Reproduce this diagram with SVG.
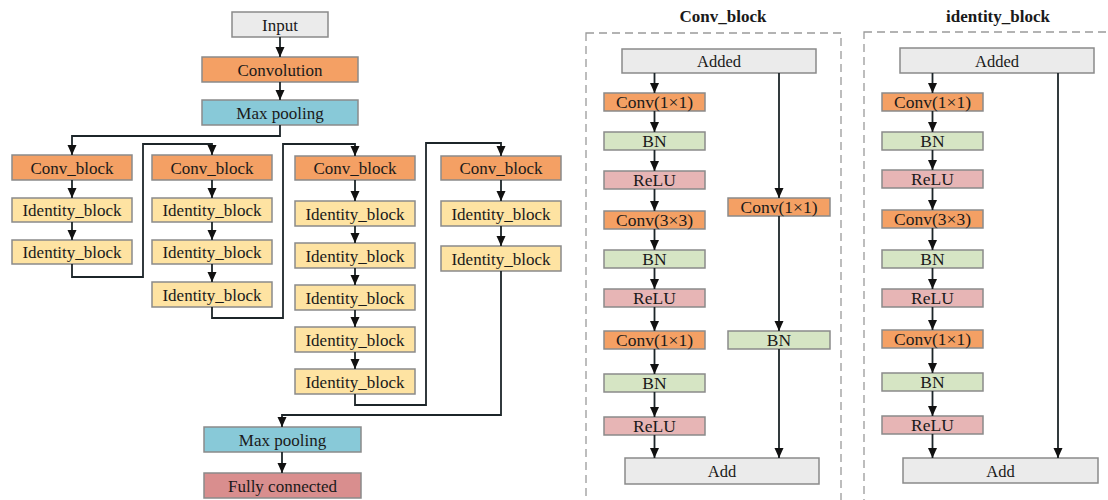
<svg xmlns="http://www.w3.org/2000/svg" width="1108" height="500" viewBox="0 0 1108 500">
<style>
  rect.n { stroke: #8a8a8a; stroke-width: 1.5; }
  .gray { fill: #ebebeb; }
  .orange { fill: #f4a064; }
  .blue { fill: #88c9d8; }
  .yellow { fill: #fee3a2; }
  .green { fill: #d6e5c4; }
  .pink { fill: #e7b5b5; }
  .red { fill: #d98e8e; }
  text { font-family: "Liberation Serif", "Times New Roman", serif; fill: #1a1a1a; text-anchor: middle; }
  .t { font-size: 17px; }
  .ti { font-size: 17px; }
  .ts { font-size: 17.5px; }
  .tg { font-size: 16.5px; }
  .title { font-size: 17px; font-weight: bold; }
  .c path, .c line { fill: none; stroke: #1c2529; stroke-width: 1.8; }
  .dash { fill: none; stroke: #9a9a9a; stroke-width: 1.3; stroke-dasharray: 8 5; }
</style>
<defs>
  <marker id="ah" markerUnits="userSpaceOnUse" markerWidth="10" markerHeight="10" viewBox="0 0 10 10" refX="10" refY="5" orient="auto">
    <path d="M0,0.5 L10,5 L0,9.5 Z" fill="#111"/>
  </marker>
</defs>
<rect width="1108" height="500" fill="#ffffff"/>

<g font-family="Liberation Serif, serif">
<!-- Left network -->
<g id="input"><rect class="n gray" x="232" y="12" width="96" height="25"/><text class="t" x="280" y="30.5">Input</text></g>
<g id="convolution"><rect class="n orange" x="202" y="57" width="156" height="25"/><text class="t" x="280" y="75.5">Convolution</text></g>
<g id="maxpool1"><rect class="n blue" x="202" y="100" width="156" height="25"/><text class="t" x="280" y="118.5">Max pooling</text></g>

<g id="c1_conv"><rect class="n orange" x="12" y="155" width="120" height="25"/><text class="t" x="72" y="173.5">Conv_block</text></g>
<g id="c1_id1"><rect class="n yellow" x="12" y="198" width="120" height="24"/><text class="ti" x="72" y="216">Identity_block</text></g>
<g id="c1_id2"><rect class="n yellow" x="12" y="240" width="120" height="24"/><text class="ti" x="72" y="258">Identity_block</text></g>

<g id="c2_conv"><rect class="n orange" x="152" y="155" width="120" height="25"/><text class="t" x="212" y="173.5">Conv_block</text></g>
<g id="c2_id1"><rect class="n yellow" x="152" y="198" width="120" height="24"/><text class="ti" x="212" y="216">Identity_block</text></g>
<g id="c2_id2"><rect class="n yellow" x="152" y="240" width="120" height="24"/><text class="ti" x="212" y="258">Identity_block</text></g>
<g id="c2_id3"><rect class="n yellow" x="152" y="282" width="120" height="25"/><text class="ti" x="212" y="300.5">Identity_block</text></g>

<g id="c3_conv"><rect class="n orange" x="295" y="156" width="120" height="24"/><text class="t" x="355" y="174">Conv_block</text></g>
<g id="c3_id1"><rect class="n yellow" x="295" y="201" width="120" height="25"/><text class="ti" x="355" y="219.5">Identity_block</text></g>
<g id="c3_id2"><rect class="n yellow" x="295" y="243" width="120" height="25"/><text class="ti" x="355" y="261.5">Identity_block</text></g>
<g id="c3_id3"><rect class="n yellow" x="295" y="285" width="120" height="25"/><text class="ti" x="355" y="303.5">Identity_block</text></g>
<g id="c3_id4"><rect class="n yellow" x="295" y="327" width="120" height="25"/><text class="ti" x="355" y="345.5">Identity_block</text></g>
<g id="c3_id5"><rect class="n yellow" x="295" y="369" width="120" height="25"/><text class="ti" x="355" y="387.5">Identity_block</text></g>

<g id="c4_conv"><rect class="n orange" x="441" y="156" width="120" height="24"/><text class="t" x="501" y="174">Conv_block</text></g>
<g id="c4_id1"><rect class="n yellow" x="441" y="201" width="120" height="25"/><text class="ti" x="501" y="219.5">Identity_block</text></g>
<g id="c4_id2"><rect class="n yellow" x="441" y="246" width="120" height="25"/><text class="ti" x="501" y="264.5">Identity_block</text></g>

<g id="maxpool2"><rect class="n blue" x="204" y="427" width="157" height="25"/><text class="t" x="282.5" y="445.5">Max pooling</text></g>
<g id="fc"><rect class="n red" x="204" y="473" width="157" height="25"/><text class="t" x="282.5" y="491.5">Fully connected</text></g>

<!-- Conv_block panel -->
<g id="convblock_panel">
  <text class="title" x="723" y="22">Conv_block</text>
  <rect class="dash" x="586" y="33" width="255" height="490"/>
</g>
<g id="cb_added"><rect class="n gray" x="622" y="49" width="194" height="24"/><text class="tg" x="719" y="67">Added</text></g>
<g id="cb_conv1"><rect class="n orange" x="604" y="93" width="101" height="18"/><text class="ts" x="654.5" y="108">Conv(1×1)</text></g>
<g id="cb_bn1"><rect class="n green" x="604" y="132" width="101" height="18"/><text class="ts" x="654.5" y="147">BN</text></g>
<g id="cb_relu1"><rect class="n pink" x="604" y="171" width="101" height="18"/><text class="ts" x="654.5" y="186">ReLU</text></g>
<g id="cb_conv2"><rect class="n orange" x="604" y="211" width="101" height="18"/><text class="ts" x="654.5" y="226">Conv(3×3)</text></g>
<g id="cb_bn2"><rect class="n green" x="604" y="250" width="101" height="18"/><text class="ts" x="654.5" y="265">BN</text></g>
<g id="cb_relu2"><rect class="n pink" x="604" y="289" width="101" height="18"/><text class="ts" x="654.5" y="304">ReLU</text></g>
<g id="cb_conv3"><rect class="n orange" x="604" y="331" width="101" height="18"/><text class="ts" x="654.5" y="346">Conv(1×1)</text></g>
<g id="cb_bn3"><rect class="n green" x="604" y="374" width="101" height="18"/><text class="ts" x="654.5" y="389">BN</text></g>
<g id="cb_relu3"><rect class="n pink" x="604" y="417" width="101" height="18"/><text class="ts" x="654.5" y="432">ReLU</text></g>
<g id="cb_sconv"><rect class="n orange" x="728" y="198" width="102" height="18"/><text class="ts" x="779" y="213">Conv(1×1)</text></g>
<g id="cb_sbn"><rect class="n green" x="728" y="331" width="102" height="18"/><text class="ts" x="779" y="346">BN</text></g>
<g id="cb_add"><rect class="n gray" x="625" y="458" width="194" height="26"/><text class="tg" x="722" y="477">Add</text></g>

<!-- identity_block panel -->
<g id="idblock_panel">
  <text class="title" x="998" y="22">identity_block</text>
  <rect class="dash" x="864" y="32" width="300" height="490"/>
</g>
<g id="ib_added"><rect class="n gray" x="900" y="48" width="194" height="25"/><text class="tg" x="997" y="66.5">Added</text></g>
<g id="ib_conv1"><rect class="n orange" x="882" y="93" width="101" height="18"/><text class="ts" x="932.5" y="108">Conv(1×1)</text></g>
<g id="ib_bn1"><rect class="n green" x="882" y="132" width="101" height="18"/><text class="ts" x="932.5" y="147">BN</text></g>
<g id="ib_relu1"><rect class="n pink" x="882" y="170" width="101" height="18"/><text class="ts" x="932.5" y="185">ReLU</text></g>
<g id="ib_conv2"><rect class="n orange" x="882" y="210" width="101" height="18"/><text class="ts" x="932.5" y="225">Conv(3×3)</text></g>
<g id="ib_bn2"><rect class="n green" x="882" y="250" width="101" height="18"/><text class="ts" x="932.5" y="265">BN</text></g>
<g id="ib_relu2"><rect class="n pink" x="882" y="289" width="101" height="18"/><text class="ts" x="932.5" y="304">ReLU</text></g>
<g id="ib_conv3"><rect class="n orange" x="882" y="330" width="101" height="18"/><text class="ts" x="932.5" y="345">Conv(1×1)</text></g>
<g id="ib_bn3"><rect class="n green" x="882" y="373" width="101" height="18"/><text class="ts" x="932.5" y="388">BN</text></g>
<g id="ib_relu3"><rect class="n pink" x="882" y="416" width="101" height="18"/><text class="ts" x="932.5" y="431">ReLU</text></g>
<g id="ib_add"><rect class="n gray" x="903" y="458" width="195" height="25"/><text class="tg" x="1000.5" y="476.5">Add</text></g>
</g>

<!-- Connectors -->
<g id="connectors" class="c">
  <line x1="280" y1="37" x2="280" y2="57" marker-end="url(#ah)"/>
  <line x1="280" y1="82" x2="280" y2="100" marker-end="url(#ah)"/>
  <path d="M280,125 V136 H72 V155" marker-end="url(#ah)"/>
  <line x1="72" y1="180" x2="72" y2="198" marker-end="url(#ah)"/>
  <line x1="72" y1="222" x2="72" y2="240" marker-end="url(#ah)"/>
  <path d="M72,264 V277 H143 V144 H212 V155" marker-end="url(#ah)"/>
  <line x1="212" y1="180" x2="212" y2="198" marker-end="url(#ah)"/>
  <line x1="212" y1="222" x2="212" y2="240" marker-end="url(#ah)"/>
  <line x1="212" y1="264" x2="212" y2="282" marker-end="url(#ah)"/>
  <path d="M212,307 V318 H283 V144 H355 V156" marker-end="url(#ah)"/>
  <line x1="355" y1="180" x2="355" y2="201" marker-end="url(#ah)"/>
  <line x1="355" y1="226" x2="355" y2="243" marker-end="url(#ah)"/>
  <line x1="355" y1="268" x2="355" y2="285" marker-end="url(#ah)"/>
  <line x1="355" y1="310" x2="355" y2="327" marker-end="url(#ah)"/>
  <line x1="355" y1="352" x2="355" y2="369" marker-end="url(#ah)"/>
  <path d="M355,394 V405 H426 V143 H501 V156" marker-end="url(#ah)"/>
  <line x1="501" y1="180" x2="501" y2="201" marker-end="url(#ah)"/>
  <line x1="501" y1="226" x2="501" y2="246" marker-end="url(#ah)"/>
  <path d="M501,271 V415 H282 V427" marker-end="url(#ah)"/>
  <line x1="282" y1="452" x2="282" y2="473" marker-end="url(#ah)"/>

  <line x1="654.5" y1="73" x2="654.5" y2="93" marker-end="url(#ah)"/>
  <line x1="654.5" y1="111" x2="654.5" y2="132" marker-end="url(#ah)"/>
  <line x1="654.5" y1="150" x2="654.5" y2="171" marker-end="url(#ah)"/>
  <line x1="654.5" y1="189" x2="654.5" y2="211" marker-end="url(#ah)"/>
  <line x1="654.5" y1="229" x2="654.5" y2="250" marker-end="url(#ah)"/>
  <line x1="654.5" y1="268" x2="654.5" y2="289" marker-end="url(#ah)"/>
  <line x1="654.5" y1="307" x2="654.5" y2="331" marker-end="url(#ah)"/>
  <line x1="654.5" y1="349" x2="654.5" y2="374" marker-end="url(#ah)"/>
  <line x1="654.5" y1="392" x2="654.5" y2="417" marker-end="url(#ah)"/>
  <line x1="654.5" y1="435" x2="654.5" y2="458" marker-end="url(#ah)"/>
  <line x1="779" y1="73" x2="779" y2="198" marker-end="url(#ah)"/>
  <line x1="779" y1="216" x2="779" y2="331" marker-end="url(#ah)"/>
  <line x1="779" y1="349" x2="779" y2="458" marker-end="url(#ah)"/>

  <line x1="932.5" y1="73" x2="932.5" y2="93" marker-end="url(#ah)"/>
  <line x1="932.5" y1="111" x2="932.5" y2="132" marker-end="url(#ah)"/>
  <line x1="932.5" y1="150" x2="932.5" y2="170" marker-end="url(#ah)"/>
  <line x1="932.5" y1="188" x2="932.5" y2="210" marker-end="url(#ah)"/>
  <line x1="932.5" y1="228" x2="932.5" y2="250" marker-end="url(#ah)"/>
  <line x1="932.5" y1="268" x2="932.5" y2="289" marker-end="url(#ah)"/>
  <line x1="932.5" y1="307" x2="932.5" y2="330" marker-end="url(#ah)"/>
  <line x1="932.5" y1="348" x2="932.5" y2="373" marker-end="url(#ah)"/>
  <line x1="932.5" y1="391" x2="932.5" y2="416" marker-end="url(#ah)"/>
  <line x1="932.5" y1="434" x2="932.5" y2="458" marker-end="url(#ah)"/>
  <line x1="1058" y1="73" x2="1058" y2="458" marker-end="url(#ah)"/>
</g>
</svg>
